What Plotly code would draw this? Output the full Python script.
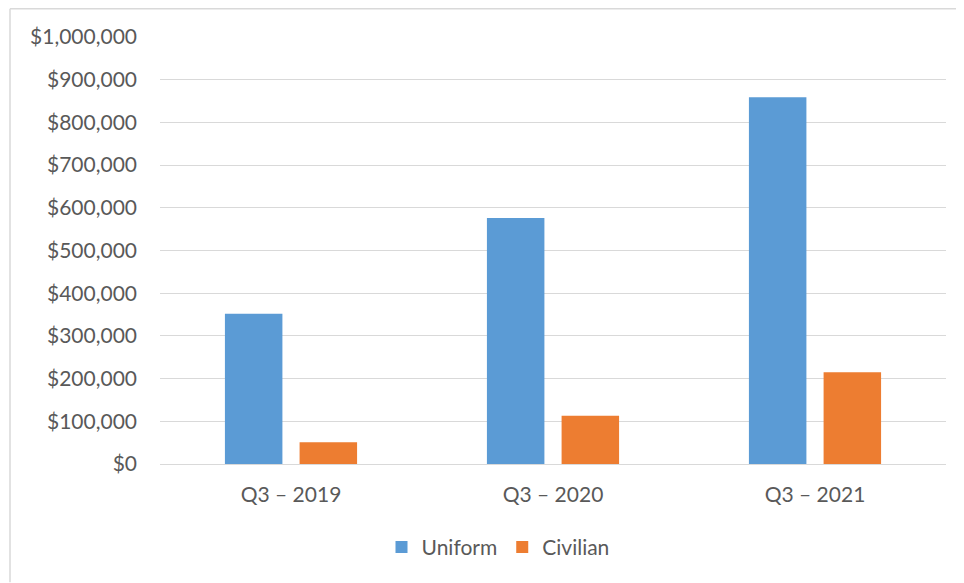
import plotly.graph_objects as go

categories = ["Q3 – 2019", "Q3 – 2020", "Q3 – 2021"]
uniform = [352000, 576000, 859000]
civilian = [51000, 113000, 215000]
y_ticks = [0, 100000, 200000, 300000, 400000, 500000, 600000, 700000, 800000, 900000, 1000000]
y_tick_labels = ["$0", "$100,000", "$200,000", "$300,000", "$400,000", "$500,000",
                 "$600,000", "$700,000", "$800,000", "$900,000", "$1,000,000"]

text_color = "#595959"
font_family = "Lato, 'Open Sans', sans-serif"

fig = go.Figure()
fig.add_trace(go.Bar(name="Uniform", x=categories, y=uniform, marker_color="#5B9BD5",
                     marker_line_width=0))
fig.add_trace(go.Bar(name="Civilian", x=categories, y=civilian, marker_color="#ED7D31",
                     marker_line_width=0))

# page body has an 8px margin, so work in figure coords = screen - 8
OFF = 8
W, H = 964 - OFF, 583 - OFF
ml, mt = 160 - OFF, 37 - OFF
mr = W - (946 - OFF)
mb = H - (464.5 - OFF)
pw = W - ml - mr
ph = H - mt - mb

def sx(px):
    return (px - OFF - ml) / pw

def sy(py):
    return (H - mb - (py - OFF)) / ph

border_color = "#D9D9D9"
shapes = [
    dict(type="line", xref="paper", yref="paper",
         x0=sx(10), x1=sx(10), y0=sy(583), y1=sy(8.8),
         line=dict(color=border_color, width=1.5)),
    dict(type="line", xref="paper", yref="paper",
         x0=sx(10), x1=sx(964), y0=sy(8.8), y1=sy(8.8),
         line=dict(color=border_color, width=1.5)),
]

fig.update_layout(
    width=W, height=H,
    margin=dict(l=ml, r=mr, t=mt, b=mb, pad=0),
    paper_bgcolor="white", plot_bgcolor="white",
    barmode="group", bargap=0.43, bargroupgap=0.23,
    font=dict(family=font_family, size=21, color=text_color),
    shapes=shapes,
    showlegend=True,
    legend=dict(orientation="h", x=sx(498), xanchor="center",
                y=sy(548), yanchor="middle",
                font=dict(size=21, color=text_color), itemwidth=30,
                bgcolor="rgba(0,0,0,0)"),
    xaxis=dict(showgrid=False, showline=False, zeroline=False, ticks="",
               ticklabelstandoff=16, tickfont=dict(size=21, color=text_color)),
    yaxis=dict(range=[0, 1000000], tickvals=y_ticks, ticktext=y_tick_labels,
               showgrid=True, gridcolor="#D9D9D9", gridwidth=1.3,
               zeroline=True, zerolinecolor="#D9D9D9", zerolinewidth=1.3,
               showline=False, ticks="", ticklabelstandoff=22,
               tickfont=dict(size=21, color=text_color)),
)

fig.write_html("out.html")
